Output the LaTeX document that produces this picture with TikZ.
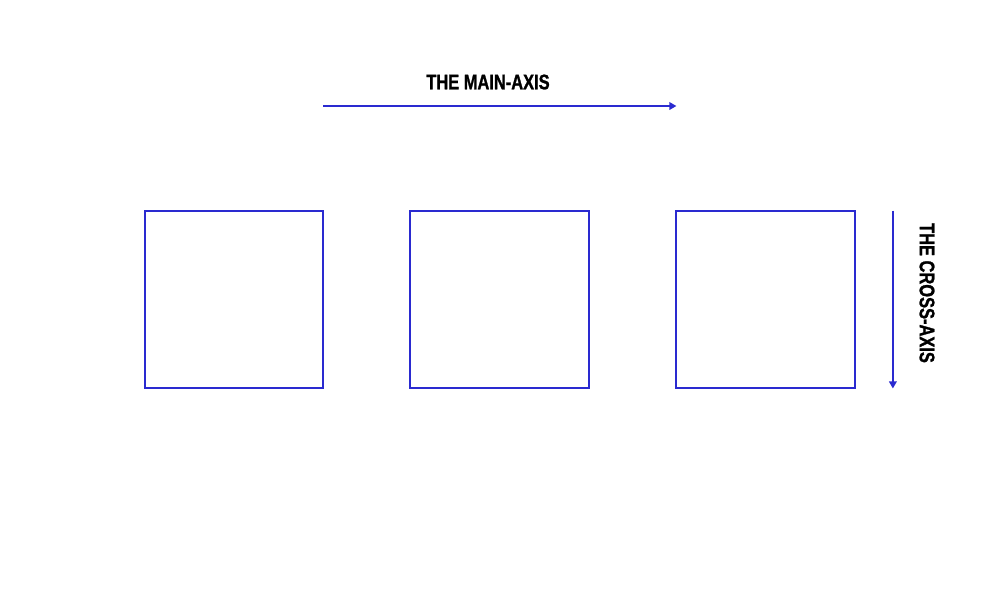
\documentclass[tikz,border=0pt]{standalone}
\usepackage{fontspec}
\usetikzlibrary{arrows.meta}
\usetikzlibrary{positioning}
\newfontfamily\axisfont{Liberation Sans Bold}[FakeStretch=0.78, FakeBold=1.2]
\definecolor{axisblue}{RGB}{42,42,208}

\begin{document}
\begin{tikzpicture}[
    x=0.02cm, y=-0.02cm,
    node distance=1.74cm,  % gap between the boxes
    flexbox/.style={
        rectangle,
        draw=axisblue,
        line width=0.04cm,
        outer sep=0pt,
        minimum width=3.58cm,
        minimum height=3.56cm
    },
    axisarrow/.style={
        draw=axisblue,
        line width=0.035cm,
        -{Triangle[length=0.14cm, width=0.15cm]}
    },
    axistext/.style={
        font=\axisfont\fontsize{12pt}{14pt}\selectfont,
        text=black,
        inner sep=0pt
    }
]
    \useasboundingbox (0,0) rectangle (1000,600);

    \node (box1) [flexbox] at (234,299.5) {};
    \node (box2) [flexbox, right=of box1] {};
    \node (box3) [flexbox, right=of box2] {};

    % Achsen
    \coordinate (main start) at (box1.east |- 0,106);
    \coordinate (main end) at (box3.west |- 0,106);
    \coordinate (cross start) at ([xshift=0.75cm]box3.north east);
    \coordinate (cross end) at ([xshift=0.75cm]box3.south east);

    \draw [axisarrow] (main start) -- (main end);
    \draw [axisarrow] (cross start) -- (cross end);

    \node (main text) [axistext] at (488,82) {THE MAIN-AXIS};
    \node (cross text) [axistext, rotate=-90] at (927,293) {THE CROSS-AXIS};
\end{tikzpicture}
\end{document}
